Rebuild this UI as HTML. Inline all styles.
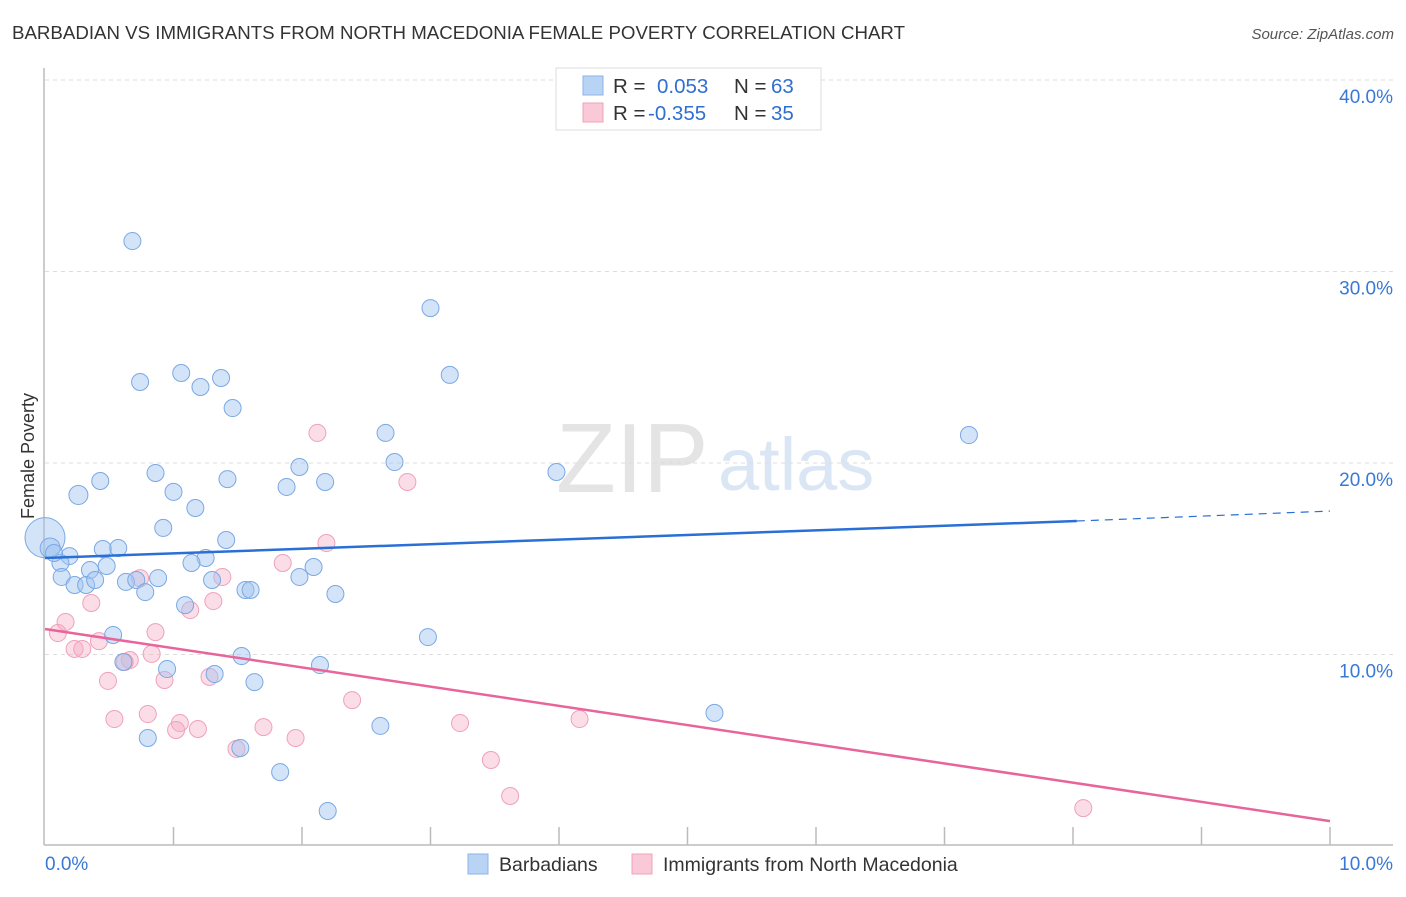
<!DOCTYPE html>
<html><head><meta charset="utf-8"><style>
body{margin:0;background:#fff;font-family:"Liberation Sans",sans-serif;}
svg text{font-family:"Liberation Sans",sans-serif;}
</style></head><body>
<svg id="chart" width="1406" height="892">
<text x="12" y="39" font-size="18.5" fill="#333" textLength="893" lengthAdjust="spacingAndGlyphs">BARBADIAN VS IMMIGRANTS FROM NORTH MACEDONIA FEMALE POVERTY CORRELATION CHART</text>
<text x="1394" y="39" font-size="15" fill="#555" font-style="italic" text-anchor="end">Source: ZipAtlas.com</text>
<text x="34" y="456" font-size="18" fill="#333" text-anchor="middle" transform="rotate(-90 34 456)">Female Poverty</text>
<text x="556" y="492" font-size="98" fill="#e4e4e4" font-family="Liberation Serif">ZIP</text>
<text x="718" y="490" font-size="74" fill="#dbe6f5">atlas</text>
<g id="grid"></g>
<g id="axes"></g>
<g id="pts"></g>
<g id="lines"></g>
<g>
<rect x="556" y="68" width="265" height="62" fill="#fff" stroke="#ddd"/>
<rect x="583" y="76" width="20" height="19" fill="#b9d3f5" stroke="#8ab4e8"/>
<text x="613" y="93" font-size="20.5" fill="#333">R = </text><text x="657" y="93" font-size="20.5" fill="#2f6fd0">0.053</text>
<text x="734" y="93" font-size="20.5" fill="#333">N = </text><text x="771" y="93" font-size="20.5" fill="#2f6fd0">63</text>
<rect x="583" y="103" width="20" height="19" fill="#f9c9d7" stroke="#f0a0bc"/>
<text x="613" y="120" font-size="20.5" fill="#333">R = </text><text x="648" y="120" font-size="20.5" fill="#2f6fd0">-0.355</text>
<text x="734" y="120" font-size="20.5" fill="#333">N = </text><text x="771" y="120" font-size="20.5" fill="#2f6fd0">35</text>
</g>
<g>
<rect x="468" y="854" width="20" height="20" fill="#b9d3f5" stroke="#8ab4e8"/>
<text x="499" y="871" font-size="19.5" fill="#333">Barbadians</text>
<rect x="632" y="854" width="20" height="20" fill="#f9c9d7" stroke="#f0a0bc"/>
<text x="663" y="871" font-size="19.5" fill="#333">Immigrants from North Macedonia</text>
</g>
</svg>
<script>
const yTicks=[10,20,30,40];
const yTickLabels=["10.0%","20.0%","30.0%","40.0%"];
const xTickLabels=["0.0%","10.0%"];
const blueX=[0.68,0.74,1.06,1.21,1.37,1.46,3.00,3.15,2.65,2.72,7.19,3.98,0.86,0.43,0.26,1.00,1.42,1.98,1.88,2.18,1.17,0.92,1.41,0.45,0.57,0.19,1.25,1.14,0.12,0.48,0.35,0.13,0.23,0.32,0.39,0.63,0.71,0.88,0.78,1.30,1.98,2.09,1.56,1.60,2.26,1.09,0.53,2.98,0.61,0.95,1.32,1.53,1.63,2.14,0.80,1.52,2.61,5.21,1.83,2.20,0.00,0.04,0.07];
const blueY=[31.59,24.23,24.70,23.97,24.44,22.87,28.09,24.60,21.57,20.05,21.46,19.53,19.48,19.06,18.33,18.49,19.16,19.79,18.75,19.01,17.65,16.61,15.98,15.51,15.56,15.14,15.04,14.78,14.78,14.62,14.41,14.05,13.63,13.63,13.89,13.79,13.89,13.99,13.26,13.89,14.05,14.57,13.37,13.37,13.16,12.58,11.02,10.91,9.61,9.24,8.98,9.92,8.56,9.45,5.64,5.12,6.27,6.95,3.86,1.83,16.1,15.56,15.30];
const blueR=[8.5,8.5,8.5,8.5,8.5,8.5,8.5,8.5,8.5,8.5,8.5,8.5,8.5,8.5,9.5,8.5,8.5,8.5,8.5,8.5,8.5,8.5,8.5,8.5,8.5,8.5,8.5,8.5,8.5,8.5,8.5,8.5,8.5,8.5,8.5,8.5,8.5,8.5,8.5,8.5,8.5,8.5,8.5,8.5,8.5,8.5,8.5,8.5,8.5,8.5,8.5,8.5,8.5,8.5,8.5,8.5,8.5,8.5,8.5,8.5,20,10,8.5];
const pinkX=[2.12,2.82,2.19,1.85,0.74,1.38,0.36,1.31,1.13,0.16,0.10,0.86,0.42,0.23,0.29,0.83,0.66,0.62,0.49,0.93,1.28,2.39,0.54,0.80,1.05,1.02,1.19,1.70,3.23,4.16,1.49,1.95,3.47,3.62,8.08];
const pinkY=[21.57,19.01,15.82,14.78,13.99,14.05,12.69,12.79,12.32,11.70,11.12,11.17,10.70,10.29,10.29,10.03,9.71,9.61,8.62,8.67,8.83,7.62,6.63,6.89,6.42,6.06,6.11,6.21,6.42,6.63,5.07,5.64,4.49,2.61,1.98];
const blueTrend=[15.04,16.97,17.49];
const pinkTrend=[11.33,1.30];
const NS="http://www.w3.org/2000/svg";
const X=v=>45+v*128.5, Y=v=>846-v*19.15;
function mk(tag,attrs,parent){const e=document.createElementNS(NS,tag);for(const k in attrs)e.setAttribute(k,attrs[k]);document.getElementById(parent).appendChild(e);return e;}
yTicks.forEach((t,i)=>{
 const l=mk('line',{x1:45,x2:1393,y1:Y(t),y2:Y(t),stroke:'#ddd','stroke-dasharray':'4,4'},'grid');
 
 
 const tx=mk('text',{x:1393,y:Y(t)+23,'font-size':19,fill:'#3a78d6','text-anchor':'end'},'grid');
 tx.textContent=yTickLabels[i];
 
 
});
let ax=mk('line',{x1:44,x2:44,y1:68,y2:845,stroke:'#bbb','stroke-width':1.5},'axes');


ax=mk('line',{x1:44,x2:1393,y1:845,y2:845,stroke:'#bbb','stroke-width':1.5},'axes');


for(let i=1;i<=10;i++){const t=mk('line',{x1:X(i),x2:X(i),y1:827,y2:845,stroke:'#bbb','stroke-width':1.5},'axes');
 
 }
[[0,'start',45],[10,'end',1393]].forEach((d,i)=>{const t=mk('text',{x:d[2],y:870,'font-size':19,fill:'#3a78d6','text-anchor':d[1]},'axes');t.textContent=xTickLabels[i];
 
 });
pinkX.forEach((x,i)=>{const c=mk('circle',{cx:X(x),cy:Y(pinkY[i]),r:8.5,fill:'rgba(245,170,195,0.4)',stroke:'#f0a0bc','stroke-width':1},'pts');
 
 });
blueX.forEach((x,i)=>{const c=mk('circle',{cx:X(x),cy:Y(blueY[i]),r:blueR[i],fill:'rgba(160,196,240,0.45)',stroke:'#7aa8e4','stroke-width':1},'pts');
 
 });
let ln=mk('line',{x1:X(0),y1:Y(blueTrend[0]),x2:X(8.03),y2:Y(blueTrend[1]),stroke:'#2a6fd6','stroke-width':2.5},'lines');


ln=mk('line',{x1:X(8.03),y1:Y(blueTrend[1]),x2:X(10),y2:Y(blueTrend[2]),stroke:'#2a6fd6','stroke-width':1.2,'stroke-dasharray':'8,6'},'lines');


ln=mk('line',{x1:X(0),y1:Y(pinkTrend[0]),x2:X(10),y2:Y(pinkTrend[1]),stroke:'#e8649a','stroke-width':2.5},'lines');


</script>
</body></html>
